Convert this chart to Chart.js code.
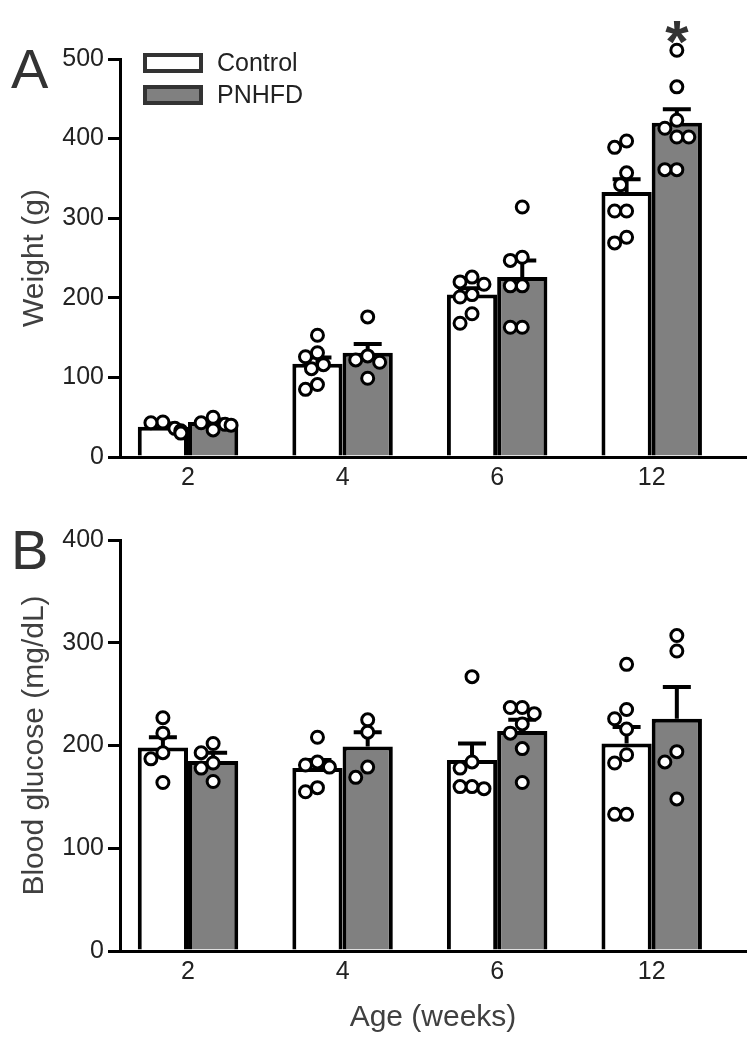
<!DOCTYPE html>
<html>
<head>
<meta charset="utf-8">
<script src="https://cdn.jsdelivr.net/npm/chart.js@4.4.1/dist/chart.umd.min.js"></script>
<style>
  html, body { margin: 0; padding: 0; background: #fff; }
  canvas { display: block; }
</style>
</head>
<body>
<canvas id="chartA" width="755" height="500"></canvas>
<canvas id="chartB" width="755" height="550"></canvas>
<script>
const ages = ['2', '4', '6', '12'];

// body weight (g)
const weightControl = [38, 117, 204, 333];
const weightPnhfd = [44, 131, 226, 420];
const weightControlSem = [4, 8, 8, 16];
const weightPnhfdSem = [3, 11, 21, 17];
const weightControlPoints = [
  [44, 43, 36, 33, 30],
  [153, 131, 126, 116, 111, 91, 85],
  [226, 220, 217, 204, 201, 180, 168],
  [397, 389, 357, 342, 309, 309, 276, 269]
];
const weightPnhfdPoints = [
  [50, 43, 41, 40, 34],
  [176, 127, 122, 119, 99],
  [314, 251, 247, 215, 215, 163, 163],
  [511, 465, 423, 413, 402, 402, 361, 361]
];
const weightSignificant = [false, false, false, true];

// blood glucose (mg/dL)
const glucoseControl = [198, 178, 186, 202];
const glucosePnhfd = [185, 199, 214, 226];
const glucoseControlSem = [10, 8, 16, 16];
const glucosePnhfdSem = [8, 14, 11, 31];
const glucoseControlPoints = [
  [227, 212, 193, 187, 164],
  [208, 184, 181, 179, 159, 155],
  [267, 184, 178, 160, 160, 158],
  [279, 235, 226, 216, 191, 183, 133, 133]
];
const glucosePnhfdPoints = [
  [202, 193, 183, 178, 165],
  [225, 213, 179, 169],
  [237, 237, 231, 221, 212, 197, 164],
  [307, 292, 194, 184, 148]
];

Chart.defaults.font.family = '"Liberation Sans", Arial, sans-serif';
Chart.defaults.animation = false;

const FONT = '"Liberation Sans", Arial, sans-serif';
const DOT_OFFSETS = [0, -6, 6, -12, 12, -18, 18];
const DOT_GAP = 12;

// SEM whiskers, drawn right after each bar dataset so the dots sit above them
const errorBars = {
  id: 'errorBars',
  afterDatasetDraw(chart, args) {
    if (args.meta.type !== 'bar') return;
    const ds = chart.data.datasets[args.index];
    const ys = chart.scales.y;
    const c = chart.ctx;
    c.save();
    c.strokeStyle = '#000';
    c.lineWidth = 4;
    args.meta.data.forEach((bar, i) => {
      const top = ys.getPixelForValue(ds.data[i].y + ds.sem[i]);
      c.beginPath();
      c.moveTo(bar.x, bar.y);
      c.lineTo(bar.x, top);
      c.moveTo(bar.x - 14, top);
      c.lineTo(bar.x + 14, top);
      c.stroke();
    });
    c.restore();
  }
};

// panel letter, legend boxes and significance star
const decor = {
  id: 'decor',
  afterDraw(chart, args, o) {
    const c = chart.ctx, a = chart.chartArea;
    c.save();
    c.fillStyle = '#333';
    c.font = '56px ' + FONT;
    c.textAlign = 'left';
    c.textBaseline = 'alphabetic';
    c.fillText(o.letter, 11, a.top + 29);

    const bars = chart.data.datasets.filter(d => d.type === 'bar');
    if (o.legend) {
      bars.forEach((d, k) => {
        const bx = a.left + 25, by = a.top - 4 + k * 32;
        c.fillStyle = d.backgroundColor;
        c.fillRect(bx, by, 56, 16);
        c.strokeStyle = '#333';
        c.lineWidth = 4;
        c.strokeRect(bx, by, 56, 16);
        c.fillStyle = '#222';
        c.font = '25px ' + FONT;
        c.textBaseline = 'middle';
        c.fillText(d.label, bx + 72, by + 9);
      });
    }
    if (o.stars) {
      const ys = chart.scales.y;
      const pn = chart.data.datasets.findIndex(d => d.label === 'PNHFD');
      const meta = chart.getDatasetMeta(pn);
      const pts = chart.data.datasets.find(d => d.type === 'scatter' && d.barIndex === pn).groups;
      c.fillStyle = '#333';
      c.font = 'bold 60px ' + FONT;
      c.textAlign = 'center';
      c.textBaseline = 'alphabetic';
      o.stars.forEach((s, i) => {
        if (!s) return;
        const y = ys.getPixelForValue(Math.max(...pts[i])) - 22;
        c.fillText('*', meta.data[i].x, y + 34);
      });
    }
    c.restore();
  }
};

function buildChart(id, cfg) {
  const tickFont = { size: 25 };
  const datasets = [
    {
      type: 'bar', label: 'Control',
      data: cfg.control.map((v, i) => ({ x: i, y: v })),
      sem: cfg.controlSem,
      backgroundColor: '#ffffff', borderColor: '#000', borderWidth: 4,
      barPercentage: 1, categoryPercentage: 0.65, order: 2
    },
    {
      type: 'bar', label: 'PNHFD',
      data: cfg.pnhfd.map((v, i) => ({ x: i, y: v })),
      sem: cfg.pnhfdSem,
      backgroundColor: '#808080', borderColor: '#000', borderWidth: 4,
      barPercentage: 1, categoryPercentage: 0.65, order: 2
    },
    {
      type: 'scatter', label: 'Control values', data: [], groups: cfg.controlPoints, barIndex: 0,
      pointRadius: 6, pointBorderWidth: 3, pointBackgroundColor: '#fff', pointBorderColor: '#000',
      order: 1, clip: false
    },
    {
      type: 'scatter', label: 'PNHFD values', data: [], groups: cfg.pnhfdPoints, barIndex: 1,
      pointRadius: 6, pointBorderWidth: 3, pointBackgroundColor: '#fff', pointBorderColor: '#000',
      order: 1, clip: false
    }
  ];

  const chart = new Chart(document.getElementById(id), {
    type: 'bar',
    data: { datasets },
    options: {
      responsive: false,
      layout: { padding: { top: cfg.top, right: 7, left: 0, bottom: 0 } },
      plugins: {
        legend: { display: false },
        tooltip: { enabled: false },
        decor: { letter: cfg.letter, legend: cfg.legend, stars: cfg.stars }
      },
      scales: {
        x: {
          type: 'linear', min: -0.44, max: 3.61, offset: false,
          afterBuildTicks: s => { s.ticks = ages.map((_, i) => ({ value: i })); },
          afterFit: s => { s.height = cfg.xHeight; },
          ticks: { callback: v => ages[v], font: tickFont, color: '#222', padding: 6, maxRotation: 0 },
          grid: { display: false, drawTicks: false },
          border: { display: true, color: '#000', width: 3 },
          title: { display: !!cfg.xTitle, text: cfg.xTitle, color: '#404040', font: { size: 30 }, padding: { top: 0, bottom: 14 } }
        },
        y: {
          min: 0, max: cfg.yMax,
          afterFit: s => { s.width = 120; },
          ticks: { stepSize: 100, font: tickFont, color: '#222', padding: 4 },
          grid: { drawOnChartArea: false, drawTicks: true, tickLength: 12, color: '#000', lineWidth: 3 },
          border: { color: '#000', width: 3 },
          title: { display: true, text: cfg.yTitle, color: '#404040', font: { size: 30 }, padding: { top: 17, bottom: 0 } }
        }
      }
    },
    plugins: [errorBars, decor]
  });

  // simple beeswarm: spread points sideways around their bar centre so they do not stack
  const xs = chart.scales.x, ys = chart.scales.y;
  chart.data.datasets.forEach(ds => {
    if (ds.type !== 'scatter') return;
    const bars = chart.getDatasetMeta(ds.barIndex).data;
    ds.data = [];
    ds.groups.forEach((vals, ci) => {
      const cx = bars[ci].x;
      const placed = [];
      vals.forEach(v => {
        const py = ys.getPixelForValue(v);
        let off = DOT_OFFSETS[DOT_OFFSETS.length - 1];
        for (const cand of DOT_OFFSETS) {
          if (placed.every(p => Math.hypot(p.x - cand, p.y - py) >= DOT_GAP)) { off = cand; break; }
        }
        placed.push({ x: off, y: py });
        ds.data.push({ x: xs.getValueForPixel(cx + off), y: v });
      });
    });
  });
  chart.update('none');
  return chart;
}

buildChart('chartA', {
  control: weightControl, pnhfd: weightPnhfd,
  controlSem: weightControlSem, pnhfdSem: weightPnhfdSem,
  controlPoints: weightControlPoints, pnhfdPoints: weightPnhfdPoints,
  yMax: 500, yTitle: 'Weight (g)', letter: 'A', legend: true, stars: weightSignificant,
  top: 59, xHeight: 43
});

buildChart('chartB', {
  control: glucoseControl, pnhfd: glucosePnhfd,
  controlSem: glucoseControlSem, pnhfdSem: glucosePnhfdSem,
  controlPoints: glucoseControlPoints, pnhfdPoints: glucosePnhfdPoints,
  yMax: 400, yTitle: 'Blood glucose (mg/dL)', xTitle: 'Age (weeks)', letter: 'B', legend: false, stars: null,
  top: 40, xHeight: 99
});
</script>
</body>
</html>
